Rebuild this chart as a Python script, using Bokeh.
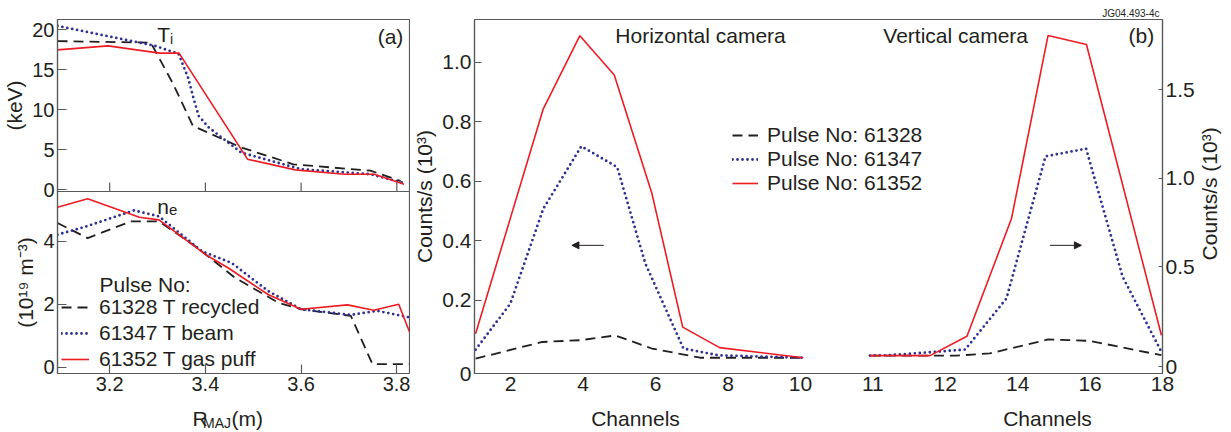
import math
from bokeh.plotting import figure
from bokeh.models import (Range1d, LinearAxis, FixedTicker, Label, Legend, LegendItem,
                          Arrow, NormalHead, Title)
from bokeh.core.properties import value
from bokeh.layouts import row, column
from bokeh.embed import file_html
from bokeh.resources import INLINE

FONT = "Liberation Sans"
TXT = "#231f20"
AX = "#58595b"
RED = "#ed1c24"
BLUE = "#2e3192"
BLK = "#231f20"

# ---------------- panel (a): ion temperature profiles (keV) ----------------
R_ti_black = [3.091, 3.286, 3.333, 3.374, 3.475, 3.584, 3.745, 3.808]
ti_black = [18.6, 18.4, 13.2, 8.0, 5.3, 3.2, 2.4, 1.1]
R_ti_blue = [3.091, 3.295, 3.344, 3.364, 3.375, 3.386, 3.407, 3.475, 3.600, 3.745, 3.811]
ti_blue = [20.5, 18.0, 17.0, 14.0, 11.5, 9.25, 7.8, 4.66, 2.59, 1.96, 0.91]
R_ti_red = [3.091, 3.197, 3.304, 3.345, 3.488, 3.588, 3.691, 3.753, 3.815]
ti_red = [17.5, 18.0, 17.1, 17.1, 3.84, 2.5, 1.96, 1.96, 0.71]

# ---------------- panel (a): electron density profiles (1e19 m^-3) ----------------
R_ne_black = [3.091, 3.154, 3.244, 3.303, 3.379, 3.462, 3.552, 3.600, 3.704, 3.749, 3.827]
ne_black = [4.58, 4.10, 4.63, 4.63, 3.84, 2.84, 2.05, 1.84, 1.63, 0.1, 0.1]
R_ne_blue = [3.091, 3.151, 3.251, 3.303, 3.393, 3.455, 3.531, 3.600, 3.704, 3.759, 3.827]
ne_blue = [4.21, 4.47, 4.98, 4.79, 3.68, 3.31, 2.42, 1.84, 1.66, 1.79, 1.58]
R_ne_red = [3.091, 3.154, 3.262, 3.303, 3.400, 3.448, 3.531, 3.600, 3.697, 3.752, 3.804, 3.827]
ne_red = [5.08, 5.35, 4.76, 4.68, 3.58, 3.15, 2.31, 1.84, 1.98, 1.81, 2.0, 1.1]

a_legend_labels = ["61328 T recycled", "61347 T beam", "61352 T gas puff"]
a_x_ticks = [3.2, 3.4, 3.6, 3.8]
ti_ticks = [0, 5, 10, 15, 20]
ne_ticks = [0, 2, 4]

# ---------------- panel (b): neutron camera counts (10^3 counts/s) ----------------
# horizontal camera (left axis); positions on the channel axis
h_pos_black = [1.03, 2.87, 3.92, 4.89, 5.90, 7.23, 10.08]
h_black = [0.004, 0.060, 0.066, 0.082, 0.038, 0.007, 0.007]
h_pos_blue = [1.03, 1.99, 2.90, 3.95, 4.94, 5.72, 6.77, 7.74, 10.08]
h_blue = [0.034, 0.189, 0.508, 0.718, 0.648, 0.323, 0.038, 0.015, 0.007]
h_pos_red = [1.03, 2.90, 3.91, 4.86, 5.90, 6.75, 7.77, 10.08]
h_red = [0.088, 0.844, 1.09, 0.958, 0.559, 0.110, 0.041, 0.007]
# vertical camera (right axis); positions on the same channel axis
v_pos_black = [11.92, 14.31, 15.23, 16.84, 17.99, 19.97]
v_black = [0.0, 0.0, 0.012, 0.091, 0.083, 0.002]
v_pos_blue = [11.92, 12.43, 13.72, 14.55, 15.69, 16.77, 17.89, 18.90, 19.97]
v_blue = [0.0, 0.002, 0.021, 0.034, 0.322, 1.124, 1.167, 0.444, 0.021]
v_pos_red = [11.92, 13.58, 14.60, 15.83, 16.84, 17.90, 19.97]
v_red = [0.0, 0.0, 0.109, 0.773, 1.806, 1.755, 0.115]

b_legend_labels = ["Pulse No: 61328", "Pulse No: 61347", "Pulse No: 61352"]
b_x_ticks = [2, 4, 6, 8, 10, 12, 14, 16, 18, 20]
b_x_labels = ["2", "4", "6", "8", "10", "11", "12", "14", "16", "18"]
b_left_ticks = [-0.046, 0.2, 0.4, 0.6, 0.8, 1.0]
b_left_labels = ["0", "0.2", "0.4", "0.6", "0.8", "1.0"]
b_right_ticks = [-0.064, 0.5, 1.0, 1.5]
b_right_labels = ["0", "0.5", "1.0", "1.5"]


def style_axis(ax, size="21px", tick_in=8):
    ax.axis_line_color = AX
    ax.axis_line_width = 1.2
    ax.major_tick_line_color = AX
    ax.major_tick_line_width = 1.2
    ax.major_tick_in = tick_in
    ax.major_tick_out = 0
    ax.minor_tick_line_color = None
    ax.major_label_text_font = FONT
    ax.major_label_text_font_size = size
    ax.major_label_text_color = TXT
    ax.major_label_standoff = 3
    ax.axis_label_text_font = FONT
    ax.axis_label_text_font_size = "21px"
    ax.axis_label_text_font_style = "normal"
    ax.axis_label_text_color = TXT
    ax.axis_label_standoff = 3


def base_fig(**kw):
    p = figure(output_backend="svg", toolbar_location=None, **kw)
    p.xgrid.visible = False
    p.ygrid.visible = False
    p.outline_line_color = AX
    p.outline_line_width = 1.2
    p.background_fill_color = "white"
    p.border_fill_color = "white"
    return p


def blank_fig(w, h):
    p = figure(output_backend="svg", toolbar_location=None, title=None, width=w, height=h,
               x_range=Range1d(0, w), y_range=Range1d(0, h),
               x_axis_location=None, y_axis_location=None,
               min_border_left=0, min_border_right=0, min_border_top=0, min_border_bottom=0)
    p.xgrid.visible = False
    p.ygrid.visible = False
    p.outline_line_color = None
    p.background_fill_color = "white"
    p.border_fill_color = "white"
    return p


def lab(p, x, y, text, size="21px", align="left", **kw):
    p.add_layout(Label(x=x, y=y, text=text, text_font=FONT, text_font_size=size,
                       text_color=TXT, text_align=align, text_baseline="middle", **kw))


def gtext(p, xs, ys, texts, size="21px", align="left", angle=0):
    p.text(x=xs, y=ys, text=texts, text_font=value(FONT), text_font_size=value(size),
           text_color=TXT, text_align=align, text_baseline="middle", angle=angle)


dash_k = dict(line_color=BLK, line_width=1.8, line_dash="10 6")
dot_b = dict(line_color=BLUE, line_width=2.8, line_dash="0 5", line_cap="round")
sol_r = dict(line_color=RED, line_width=1.6)

OVERLAP = 8  # the lower panel is pulled up over the blank strip under the upper frame

# ---- top of panel (a) ----
xr_a = Range1d(3.091, 3.8265)
ti_range = Range1d(-0.2, 21.3)
fa_t = base_fig(width=410, height=191 + OVERLAP, x_range=xr_a, y_range=ti_range, title=None,
                x_axis_location=None,
                min_border_left=54, min_border_right=1, min_border_top=19,
                min_border_bottom=OVERLAP)
fa_t.line(R_ti_black, ti_black, **dash_k)
fa_t.line(R_ti_blue, ti_blue, **dot_b)
fa_t.line(R_ti_red, ti_red, **sol_r)
# short inward tick marks along the bottom edge of the upper frame (no labels), ~9 px
tick_len_ti = 9 / 8.0
fa_t.segment(x0=a_x_ticks, y0=[ti_range.start] * len(a_x_ticks), x1=a_x_ticks,
             y1=[ti_range.start + tick_len_ti] * len(a_x_ticks),
             line_color=AX, line_width=1.2)
style_axis(fa_t.yaxis[0], size="20px", tick_in=9)
fa_t.yaxis[0].ticker = FixedTicker(ticks=ti_ticks)
fa_t.yaxis[0].axis_label = "(keV)"
lab(fa_t, 3.2995, 19.4, "T")
lab(fa_t, 3.326, 18.9, "i", size="14px")
lab(fa_t, 3.76, 19.15, "(a)")

# ---- bottom of panel (a) ----
fa_b = base_fig(width=410, height=211, x_range=xr_a, y_range=Range1d(-0.2, 5.58), title=None,
                min_border_left=54, min_border_right=1, min_border_top=0, min_border_bottom=29,
                margin=(-OVERLAP, 0, 0, 0))
fa_b.border_fill_alpha = 0
fa_b.background_fill_alpha = 0
rk = fa_b.line(R_ne_black, ne_black, **dash_k)
rb = fa_b.line(R_ne_blue, ne_blue, **dot_b)
rr = fa_b.line(R_ne_red, ne_red, **sol_r)
style_axis(fa_b.xaxis[0], size="20px", tick_in=9)
fa_b.xaxis[0].ticker = FixedTicker(ticks=a_x_ticks)
style_axis(fa_b.yaxis[0], size="20px", tick_in=9)
fa_b.yaxis[0].ticker = FixedTicker(ticks=ne_ticks)
fa_b.yaxis[0].axis_label = "(10\u00b9\u2079 m\u207b\u00b3)"
lab(fa_b, 3.2995, 5.11, "n")
lab(fa_b, 3.324, 5.0, "e", size="15px")
lab(fa_b, 3.179, 2.64, "Pulse No:")
leg_a = Legend(items=[LegendItem(label=a_legend_labels[i], renderers=[r])
                      for i, r in enumerate([rk, rb, rr])],
               location=(4, 2), padding=0, margin=0, spacing=2, glyph_width=28,
               glyph_height=20, label_height=24, label_standoff=10,
               label_text_font=FONT, label_text_font_size="21px", label_text_color=TXT,
               background_fill_alpha=0, border_line_alpha=0)
fa_b.add_layout(leg_a)

# ---- panel (b) ----
fb_title = Title(text="JG04.493-4c", align="right", text_font=FONT, text_font_size="10px",
                 text_font_style="normal", text_color=TXT, standoff=2, offset=3)
fb = base_fig(width=787, height=402, x_range=Range1d(1, 20), y_range=Range1d(-0.046, 1.1445),
              title=fb_title,
              min_border_left=64, min_border_right=34, min_border_top=19, min_border_bottom=29)
fb.extra_y_ranges = {"right": Range1d(-0.101, 1.896)}
bk = fb.line(h_pos_black, h_black, **dash_k)
bb = fb.line(h_pos_blue, h_blue, **dot_b)
br = fb.line(h_pos_red, h_red, **sol_r)
fb.line(v_pos_black, v_black, y_range_name="right", **dash_k)
fb.line(v_pos_blue, v_blue, y_range_name="right", **dot_b)
fb.line(v_pos_red, v_red, y_range_name="right", **sol_r)

style_axis(fb.xaxis[0], tick_in=0)
fb.xaxis[0].ticker = FixedTicker(ticks=b_x_ticks)
fb.xaxis[0].major_label_overrides = {t: l for t, l in zip(b_x_ticks, b_x_labels)}
style_axis(fb.yaxis[0], tick_in=7)
fb.yaxis[0].ticker = FixedTicker(ticks=b_left_ticks)
fb.yaxis[0].major_label_overrides = {t: l for t, l in zip(b_left_ticks, b_left_labels)}
fb.yaxis[0].axis_label = "Counts/s (10\u00b3)"
ax_r = LinearAxis(y_range_name="right", ticker=FixedTicker(ticks=b_right_ticks))
style_axis(ax_r, tick_in=4)
ax_r.major_label_overrides = {t: l for t, l in zip(b_right_ticks, b_right_labels)}
fb.add_layout(ax_r, "right")

lab(fb, 4.89, 1.090, "Horizontal camera")
lab(fb, 12.29, 1.090, "Vertical camera")
lab(fb, 19.06, 1.090, "(b)")

fb.add_layout(Arrow(end=NormalHead(size=7, fill_color=BLK, line_color=BLK, line_width=1),
                    x_start=4.57, y_start=0.385, x_end=3.69, y_end=0.385,
                    line_color=BLK, line_width=1))
fb.add_layout(Arrow(end=NormalHead(size=7, fill_color=BLK, line_color=BLK, line_width=1),
                    x_start=16.89, y_start=0.385, x_end=17.76, y_end=0.385,
                    line_color=BLK, line_width=1))

leg_b = Legend(items=[LegendItem(label=b_legend_labels[i], renderers=[r])
                      for i, r in enumerate([bk, bb, br])],
               location=(258, 178), padding=0, margin=0, spacing=0, glyph_width=26,
               glyph_height=20, label_height=24, label_standoff=9,
               label_text_font=FONT, label_text_font_size="21px", label_text_color=TXT,
               background_fill_alpha=0, border_line_alpha=0)
fb.add_layout(leg_b)

# ---- right-hand axis title strip ----
fr = blank_fig(34, 402)
gtext(fr, [12], [204], ["Counts/s (10\u00b3)"], align="center", angle=math.pi / 2)

# ---- bottom strip with the x-axis titles ----
strip = blank_fig(1231, 30)
gtext(strip, [192, 231], [14.3, 14.3], ["R", "(m)"])
gtext(strip, [202.5], [9.6], ["MAJ"], size="14px")
gtext(strip, [635, 1047], [14.3, 14.3], ["Channels", "Channels"], align="center")

layout = column(row(column(fa_t, fa_b), fb, fr), strip)
open("out.html", "w").write(file_html(layout, INLINE))
